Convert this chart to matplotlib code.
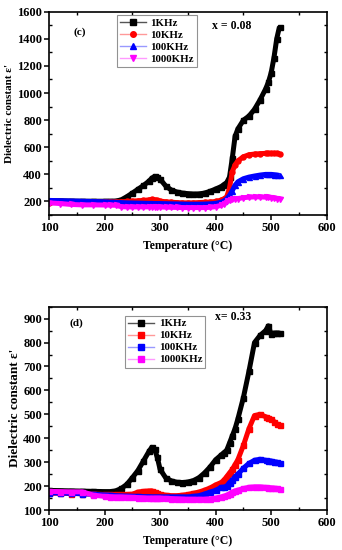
"""
Dielectric constant vs temperature for x = 0.08 (c) and x = 0.33 (d).
"""
import matplotlib
matplotlib.use("Agg")
import matplotlib.pyplot as plt
from matplotlib.lines import Line2D
from matplotlib.ticker import MultipleLocator

plt.rcParams["font.family"] = ["Liberation Serif", "DejaVu Serif"]
plt.rcParams["font.weight"] = "bold"

LABELS = ["1KHz", "10KHz", "100KHz", "1000KHz"]
COLORS = ["black", "red", "blue", "magenta"]
PALE = ["#555555", "#ff9999", "#9999ff", "#ff99ff"]

TEMP = [100, 120, 140, 160, 180, 200, 210, 220, 230, 240, 250, 260, 270, 280, 285,
        290, 295, 300, 310, 320, 330, 340, 350, 360, 370, 380, 390, 400, 410, 415,
        420, 425, 430, 435, 440, 450, 460, 470, 480, 490, 495, 500, 505, 510, 515]

# panel (c), x = 0.08
EPS_C_1K = [205, 205, 203, 202, 202, 202, 202, 203, 212, 235, 262, 290, 318, 350, 372,
            385, 382, 365, 315, 285, 270, 262, 258, 255, 256, 262, 275, 292, 310, 325,
            340, 380, 520, 680, 735, 800, 830, 880, 950, 1030, 1080, 1150, 1260, 1400, 1490]
EPS_C_10K = [190, 195, 198, 198, 198, 198, 198, 198, 198, 200, 203, 205, 208, 212, 215,
             212, 208, 203, 198, 195, 192, 190, 190, 190, 192, 194, 196, 200, 210, 220,
             235, 300, 420, 470, 500, 530, 545, 550, 553, 555, 555, 555, 555, 555, 553]
EPS_C_100K = [208, 206, 204, 202, 200, 198, 196, 194, 192, 190, 189, 188, 187, 186, 186,
              185, 185, 185, 184, 183, 182, 181, 180, 180, 180, 181, 183, 186, 195, 205,
              220, 245, 280, 320, 345, 368, 380, 388, 395, 400, 400, 400, 398, 396, 392]
EPS_C_1000K = [190, 185, 178, 175, 175, 174, 173, 172, 162, 160, 160, 160, 160, 160, 160,
               160, 160, 160, 158, 157, 156, 155, 155, 155, 155, 155, 157, 162, 172, 185,
               200, 210, 215, 220, 222, 228, 232, 234, 234, 232, 230, 228, 226, 222, 220]

# panel (d), x = 0.33
EPS_D_1K = [182, 181, 180, 179, 178, 177, 177, 180, 190, 207, 235, 265, 305, 345, 362,
            355, 320, 270, 235, 222, 216, 215, 217, 223, 235, 255, 280, 310, 330, 340,
            350, 380, 410, 440, 480, 570, 680, 800, 830, 850, 870, 835, 840, 840, 840]
EPS_D_10K = [170, 170, 169, 168, 167, 165, 165, 165, 165, 165, 166, 175, 178, 180, 180,
             176, 172, 166, 162, 160, 160, 162, 165, 170, 175, 183, 192, 205, 215, 225,
             240, 255, 270, 290, 310, 370, 440, 495, 500, 490, 485, 480, 470, 460, 455]
EPS_D_100K = [172, 171, 170, 168, 166, 163, 162, 160, 159, 158, 157, 157, 156, 156, 155,
              155, 155, 155, 155, 155, 155, 155, 155, 157, 160, 167, 175, 182, 195, 195,
              200, 215, 225, 240, 250, 275, 295, 308, 312, 308, 306, 305, 302, 300, 297]
EPS_D_1000K = [178, 177, 176, 176, 162, 157, 156, 155, 155, 154, 153, 152, 151, 150, 150,
               150, 150, 150, 149, 148, 147, 146, 145, 145, 145, 145, 147, 150, 155, 158,
               162, 168, 175, 180, 183, 190, 195, 197, 197, 195, 194, 193, 192, 190, 188]


def draw_panel(ax, series, markers, ylim, ymajor, tag, comp, tag_pos, comp_pos,
               leg_pos, ylab_size):
    for vals, col, mk in zip(series, COLORS, markers):
        ax.plot(TEMP, vals, "-", color=col, lw=3.6, marker=mk, ms=3.6,
                mec=col, mfc=col, solid_capstyle="butt")

    ax.set_xlim(100, 600)
    ax.set_ylim(*ylim)
    ax.xaxis.set_major_locator(MultipleLocator(100))
    ax.xaxis.set_minor_locator(MultipleLocator(50))
    ax.yaxis.set_major_locator(MultipleLocator(ymajor))
    ax.yaxis.set_minor_locator(MultipleLocator(ymajor / 2))
    ax.tick_params(which="major", direction="out", length=3.5, width=1.1,
                   labelsize=9, pad=1.5)
    ax.tick_params(which="minor", direction="in", length=2.5, width=1,
                   top=True, right=True)
    for sp in ax.spines.values():
        sp.set_linewidth(1.2)

    ax.set_xlabel("Temperature (°C)", fontsize=8.5, fontweight="bold", labelpad=4)
    ax.set_ylabel("Dielectric constant ε'", fontsize=ylab_size, fontweight="bold",
                  labelpad=2)

    ax.text(*tag_pos, tag, transform=ax.transAxes, fontsize=8, fontweight="bold",
            ha="center", va="center")
    ax.text(*comp_pos, comp, transform=ax.transAxes, fontsize=8.5, fontweight="bold",
            ha="center", va="center")

    handles = [Line2D([], [], color=p, lw=1, marker=mk, ms=4, mfc=c, mec=c)
               for p, c, mk in zip(PALE, COLORS, markers)]
    leg = ax.legend(handles, LABELS, loc="upper left", bbox_to_anchor=leg_pos,
                    fontsize=7.8, frameon=True, fancybox=False, handlelength=2.4,
                    handletextpad=0.4, borderpad=0.3, labelspacing=0.22,
                    borderaxespad=0)
    leg.get_frame().set_edgecolor("#777777")
    leg.get_frame().set_linewidth(0.8)


fig = plt.figure(figsize=(3.42, 5.5), dpi=100)
ax_c = fig.add_axes([0.1433, 0.609, 0.812, 0.3697])
ax_d = fig.add_axes([0.1433, 0.0727, 0.812, 0.3697])

draw_panel(ax_c, [EPS_C_1K, EPS_C_10K, EPS_C_100K, EPS_C_1000K], ["s", "o", "^", "v"],
           (100, 1600), 200, "(c)", "x = 0.08", (0.112, 0.90), (0.658, 0.93),
           (0.244, 0.984), 8)
draw_panel(ax_d, [EPS_D_1K, EPS_D_10K, EPS_D_100K, EPS_D_1000K], ["s", "s", "s", "s"],
           (100, 950), 100, "(d)", "x= 0.33", (0.10, 0.92), (0.663, 0.95),
           (0.274, 0.956), 9.5)

fig.savefig("out.png", dpi=100)
